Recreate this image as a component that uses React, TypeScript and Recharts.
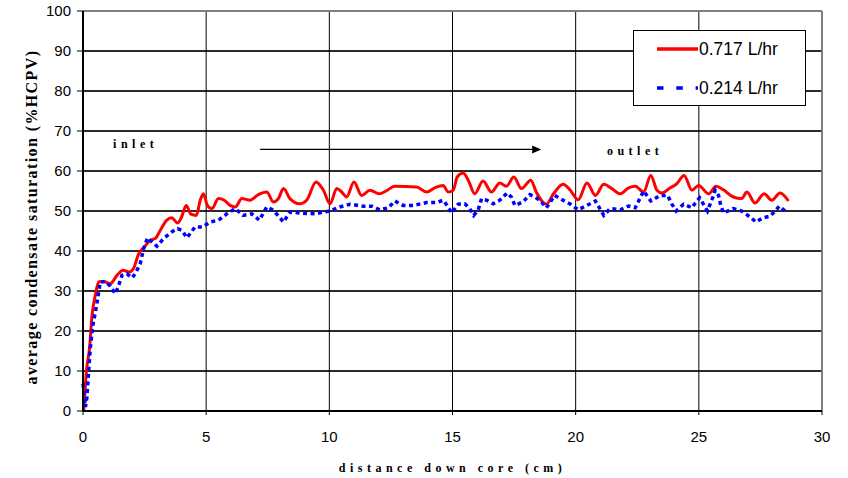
import React from 'react';
import { LineChart, Line, XAxis, YAxis, CartesianGrid, Legend, ReferenceLine, ReferenceDot, Label } from 'recharts';

// distance down core (cm) / saturation (%HCPV)
const fastX = [
  0.03, 0.14, 0.27, 0.36, 0.5, 0.64, 0.84, 1.1, 1.38, 1.62, 1.89, 2.05, 2.26, 2.49, 2.73, 2.93,
  3.14, 3.4, 3.6, 3.84, 4.0, 4.19, 4.38, 4.6, 4.76, 4.89, 5.05, 5.23, 5.5, 5.73, 5.97, 6.18,
  6.45, 6.78, 7.12, 7.46, 7.73, 7.93, 8.14, 8.4, 8.8, 9.08, 9.46, 9.76, 10.03, 10.3, 10.5, 10.7,
  11.0, 11.31, 11.65, 12.03, 12.3, 12.66, 13.54, 13.95, 14.28, 14.62, 14.82, 15.03, 15.19, 15.43,
  15.64, 15.9, 16.24, 16.58, 16.92, 17.19, 17.49, 17.8, 18.18, 18.4, 18.81, 19.1, 19.49, 19.78,
  20.1, 20.46, 20.8, 21.14, 21.47, 21.81, 22.15, 22.42, 22.76, 23.05, 23.3, 23.5, 23.84, 24.1,
  24.4, 24.72, 24.99, 25.4, 25.7, 26.0, 26.4, 26.74, 26.95, 27.28, 27.65, 27.96, 28.3, 28.64,
];
const fastY = [
  0, 10, 16, 23.5, 29, 32.3, 32.4, 31.8, 33.9, 35.2, 34.75, 35.6, 39.3, 41, 42.7, 43.1,
  45.2, 47.7, 48.3, 47, 48.5, 51.4, 49.2, 48.9, 52.7, 54.3, 51.4, 50.6, 53.1, 52.7, 51.4, 51,
  53.1, 52.7, 54.1, 54.75, 52.25, 53.1, 55.6, 53.1, 51.8, 52.7, 57.25, 55.2, 51.8, 55.6, 54.75, 53.5,
  57.25, 53.9, 55.2, 54.3, 55, 56.2, 56, 54.75, 55.8, 56.4, 54.75, 55.2, 58.5, 59.5,
  57.7, 54.3, 57.5, 54.75, 57, 56.2, 58.5, 55.6, 57.7, 54.75, 51.7, 54.3, 56.7, 55.2,
  52.8, 57, 53.9, 56.7, 55.6, 54.3, 55.8, 56.2, 54.75, 58.9, 55.2, 54.5, 55.8, 56.8,
  58.9, 55.2, 56.4, 54.3, 56.2, 55.3, 53.5, 53.1, 54.75, 52, 54.3, 52.7, 54.5, 52.5,
];

const slowX = [
  0, 0.1, 0.16, 0.23, 0.3, 0.4, 0.54, 0.7, 0.9, 1.08, 1.31, 1.45, 1.58, 1.78, 1.99, 2.12,
  2.32, 2.46, 2.62, 2.8, 3.0, 3.27, 3.6, 3.84, 4.01, 4.22, 4.55, 4.86, 5.16, 5.5, 5.84, 6.18,
  6.5, 6.85, 7.16, 7.46, 7.73, 8.14, 8.4, 8.8, 9.42, 9.76, 10.03, 10.43, 10.84, 11.38, 11.72, 12.05,
  12.4, 12.66, 13.0, 13.4, 13.95, 14.35, 14.62, 14.78, 14.96, 15.23, 15.5, 15.7, 15.86, 16.04,
  16.18, 16.38, 16.65, 16.92, 17.22, 17.39, 17.53, 17.86, 18.14, 18.34, 18.54, 18.81, 19.15, 19.49,
  19.76, 20.1, 20.46, 20.8, 21.14, 21.4, 21.81, 22.15, 22.42, 22.76, 23.05, 23.43, 23.73, 23.9,
  24.08, 24.38, 24.72, 24.86, 25.03, 25.35, 25.6, 25.66, 25.8, 25.89, 26.0, 26.4, 26.74, 27.08,
  27.32, 27.6, 27.9, 28.27, 28.54,
];
const slowY = [
  6.8, 1, 3.5, 10, 16, 21.4, 26, 32.25, 32.4, 31.4, 29.3, 31.4, 33.9, 34.3, 33.3, 34.3,
  36.8, 40.6, 43.3, 42.25, 41.2, 43.1, 44.75, 45.6, 45.2, 43.3, 46, 46, 47.25, 47.7, 49.3, 50.6,
  48.9, 49.3, 47.7, 51, 50.2, 47.25, 49.75, 49.5, 49.3, 49.75, 50, 51, 51.7, 51.2, 51.2, 50.3,
  50.8, 52.5, 51.4, 51.4, 52.1, 52.1, 52.7, 51.4, 49.5, 51.7, 51.8, 50.6, 48.9, 50.2,
  53.1, 52.7, 51.8, 52.7, 54.5, 53.5, 51.4, 52.25, 54.1, 53.5, 52.7, 50.8, 53.9, 52.7,
  51.8, 50.3, 51.4, 52.5, 48.9, 50.6, 50.3, 51.25, 50.8, 55, 52.5, 53.9, 53.9, 51.8,
  50, 51.7, 50.8, 52, 53.3, 50, 53.9, 55.2, 53.9, 51.4, 49.5, 50.6, 50, 48.5,
  47.25, 48.3, 48.7, 51.2, 49.75,
];

const xTicks = [0, 5, 10, 15, 20, 25, 30];
const yTicks = [0, 10, 20, 30, 40, 50, 60, 70, 80, 90, 100];

const fastData = fastX.map((x, i) => ({ x, y: fastY[i] }));
const slowData = slowX.map((x, i) => ({ x, y: slowY[i] }));

const series = [
  { name: '0.717 L/hr', color: '#FF0000', dash: undefined as string | undefined },
  { name: '0.214 L/hr', color: '#0000FF', dash: '6.5 12.8' },
];

const sansFont = '"Liberation Sans", Arial, sans-serif';
const serifFont = '"Liberation Serif", "Times New Roman", serif';

const renderLegend = () => (
  <div
    style={{
      width: '100%',
      height: '100%',
      boxSizing: 'border-box',
      border: '1.5px solid #000',
      background: '#fff',
      position: 'relative',
      fontFamily: sansFont,
      fontSize: 17.5,
      color: '#000',
    }}
  >
    {series.map((s, i) => (
      <div
        key={s.name}
        style={{ position: 'absolute', left: 23, top: i === 0 ? 8 : 47, display: 'flex', alignItems: 'center', height: 20 }}
      >
        <svg width={42} height={20}>
          <line x1={0} y1={10} x2={41} y2={10} stroke={s.color} strokeWidth={3.5} strokeDasharray={s.dash} />
        </svg>
        <span style={{ lineHeight: '20px' }}>{s.name}</span>
      </div>
    ))}
  </div>
);

const annotation = (text: string) => (props: any) => (
  <text
    x={props.cx}
    y={props.cy}
    fontFamily={serifFont}
    fontWeight="bold"
    fontSize={12}
    letterSpacing={4.5}
    fill="#000"
  >
    {text}
  </text>
);

const arrowHead = (props: any) => {
  const { cx, cy } = props;
  return <polygon points={`${cx},${cy} ${cx - 9},${cy - 4} ${cx - 9},${cy + 4}`} fill="#000" />;
};

const App: React.FC = () => {
  return (
    <div style={{ position: 'absolute', left: 0, top: 0 }}>
      <LineChart width={848} height={478} margin={{ top: 11, right: 26, left: 0, bottom: 0 }}>
        <CartesianGrid vertical={false} stroke="#2a2a2a" strokeWidth={2} />
        <CartesianGrid horizontal={false} stroke="#000" strokeWidth={1} />
        <XAxis
          type="number"
          dataKey="x"
          domain={[0, 30]}
          ticks={xTicks}
          height={67}
          tickSize={4}
          tickMargin={16}
          axisLine={{ stroke: '#000', strokeWidth: 2 }}
          tickLine={{ stroke: '#000' }}
          tick={{ fill: '#000', fontSize: 15, fontFamily: sansFont }}
        >
          <Label
            value="distance down core (cm)"
            position="insideBottom"
            offset={6}
            style={{ fontFamily: serifFont, fontWeight: 'bold', fontSize: 12, letterSpacing: 4.5, fill: '#000' }}
          />
        </XAxis>
        <YAxis
          type="number"
          domain={[0, 100]}
          ticks={yTicks}
          width={83}
          tickSize={6}
          tickMargin={6}
          axisLine={{ stroke: '#000', strokeWidth: 2 }}
          tickLine={{ stroke: '#000' }}
          tick={{ fill: '#000', fontSize: 15, fontFamily: sansFont }}
        >
          <Label
            value="average condensate saturation (%HCPV)"
            angle={-90}
            position="center"
            dx={-10.5}
            dy={6}
            style={{ fontFamily: serifFont, fontWeight: 'bold', fontSize: 16, letterSpacing: 1.4, fill: '#000' }}
          />
        </YAxis>
        <ReferenceLine y={100} stroke="#808080" strokeWidth={2} />
        <ReferenceLine x={30} stroke="#808080" strokeWidth={1.5} />
        <ReferenceLine
          segment={[{ x: 7.19, y: 65.4 }, { x: 18.3, y: 65.4 }]}
          stroke="#000"
          strokeWidth={1.3}
        />
        <ReferenceDot x={18.6} y={65.4} shape={arrowHead} />
        <ReferenceDot x={1.22} y={65.7} shape={annotation('inlet')} />
        <ReferenceDot x={21.27} y={63.9} shape={annotation('outlet')} />
        <Line
          data={fastData}
          dataKey="y"
          name={series[0].name}
          type="monotone"
          stroke={series[0].color}
          strokeWidth={3}
          dot={false}
          isAnimationActive={false}
        />
        <Line
          data={slowData}
          dataKey="y"
          name={series[1].name}
          type="linear"
          stroke={series[1].color}
          strokeWidth={3.5}
          strokeDasharray="4 3.5"
          dot={false}
          isAnimationActive={false}
        />
        <Legend
          layout="vertical"
          align="center"
          verticalAlign="middle"
          content={renderLegend}
          wrapperStyle={{ left: 633, top: 30, width: 173, height: 76 }}
        />
      </LineChart>
    </div>
  );
};

export default App;
